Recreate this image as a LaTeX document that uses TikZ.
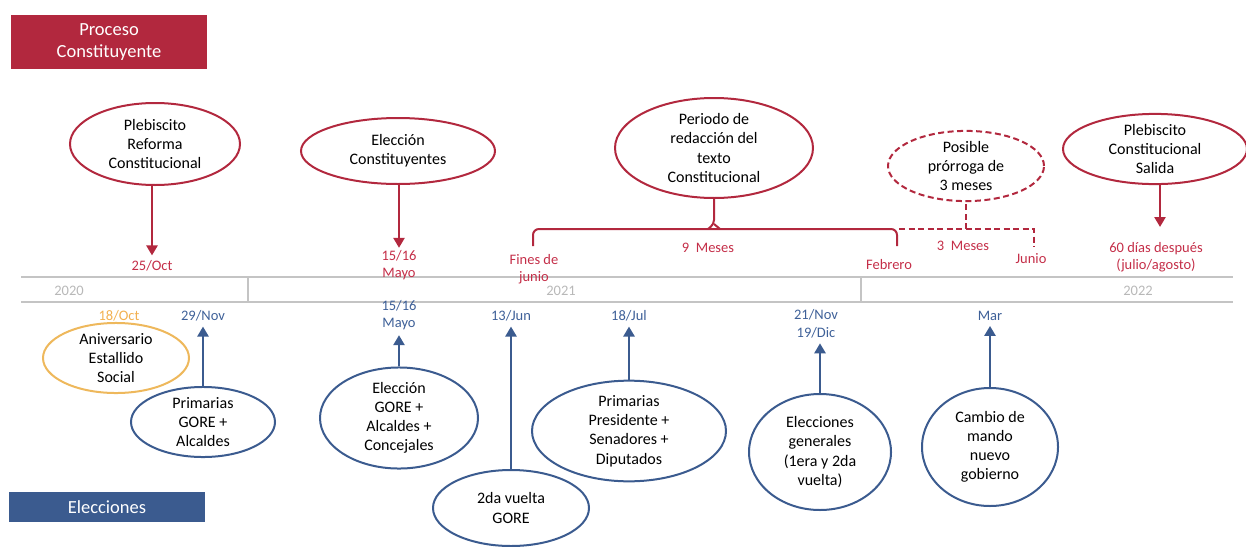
\documentclass[tikz,border=0pt]{standalone}
\usepackage{fontspec}
\setmainfont{Carlito}
\usetikzlibrary{shapes.geometric,arrows.meta}
\definecolor{cred}{RGB}{178,40,62}
\definecolor{credtxt}{RGB}{196,46,72}
\definecolor{cblue}{RGB}{59,91,143}
\definecolor{cbluetxt}{RGB}{62,96,152}
\definecolor{corange}{RGB}{238,184,92}
\definecolor{corangetxt}{RGB}{242,176,80}
\definecolor{cgrayline}{RGB}{196,196,196}
\definecolor{cgraytxt}{RGB}{184,184,184}
\tikzset{
  ell/.style={ellipse, draw, line width=2pt, inner sep=0pt, align=center,
    font=\fontsize{16}{19.2}\selectfont, text=black},
  redell/.style={ell, draw=cred},
  blueell/.style={ell, draw=cblue},
  orangeell/.style={ell, draw=corange},
  lbl/.style={align=center, inner sep=1pt, font=\fontsize{14.5}{17.5}\selectfont},
  redlbl/.style={lbl, text=credtxt},
  bluelbl/.style={lbl, text=cbluetxt},
  yearlbl/.style={lbl, text=cgraytxt},
  redarrow/.style={draw=cred, line width=2.4pt, -{Triangle[width=11pt,length=10pt]}},
  bluearrow/.style={draw=cblue, line width=2.4pt, -{Triangle[width=11pt,length=10pt]}},
  redline/.style={draw=cred, line width=2pt},
  dashline/.style={redline, dash pattern=on 6pt off 3.5pt},
  gridline/.style={draw=cgrayline, line width=1.4pt},
  titlebox/.style={minimum width=196pt, inner sep=0pt, align=center, text=white,
    font=\fontsize{18.5}{22.5}\selectfont}
}
\begin{document}
\begin{tikzpicture}[x=1pt,y=-1pt]
\useasboundingbox (0,0) rectangle (1246,546);
% title boxes
\node[titlebox, fill=cred, minimum height=54pt] (t1) at (109,42) {Proceso\\Constituyente};
\node[titlebox, fill=cblue, minimum height=30pt] (t2) at (107,507) {Elecciones};
% timeline
\draw[gridline] (21,277) -- (1233,277);
\draw[gridline] (21,302) -- (1233,302);
\draw[gridline] (248,277) -- (248,302);
\draw[gridline] (861,277) -- (861,302);
\node[yearlbl] (y1) at (69,291) {2020};
\node[yearlbl] (y2) at (561,291) {2021};
\node[yearlbl] (y3) at (1138,291) {2022};
% top ellipses
\node[redell, minimum width=170pt, minimum height=82pt] (e1) at (155,144) {Plebiscito\\Reforma\\Constitucional};
\node[redell, minimum width=194pt, minimum height=66pt] (e2) at (398,151) {Elección\\Constituyentes};
\node[redell, minimum width=198pt, minimum height=100pt] (e3) at (714,148) {Periodo de\\redacción del\\texto\\Constitucional};
\node[redell, dash pattern=on 6pt off 3.5pt, minimum width=156pt, minimum height=66pt] (e4) at (966,166) {Posible\\prórroga de\\3 meses};
\node[redell, minimum width=184pt, minimum height=62pt] (e5) at (1155,149) {Plebiscito\\Constitucional\\Salida};
% top labels
\node[redlbl] (d1) at (152,266) {25/Oct};
\node[redlbl] (d2) at (399,265) {15/16\\Mayo};
\node[redlbl] (d3) at (534,269) {Fines de\\junio};
\node[redlbl] (d4) at (708,248) {9\ \ Meses};
\node[redlbl] (d5) at (889,265) {Febrero};
\node[redlbl] (d6) at (963,246) {3\ \ Meses};
\node[redlbl] (d7) at (1031,259) {Junio};
\node[redlbl] (d8) at (1156,257) {60 días después\\(julio/agosto)};
% top arrows
\draw[redarrow, shorten >=4pt] (e1.south -| d1.north) -- (d1.north);
\draw[redarrow, shorten >=1pt] (e2.south -| d2.north) -- (d2.north);
\draw[redarrow, shorten >=9pt] (e5.south -| 1160,0) -- (1160,236);
% braces
\coordinate (bl) at (533,246);
\coordinate (bm) at (714,229);
\coordinate (br) at (897,246);
\draw[redline, rounded corners=6pt] (bl) -- (533,229) -- (897,229) -- (br);
\draw[redline, rounded corners=4pt] (708,229) -- (714,224) -- (e3.south);
\draw[redline, rounded corners=4pt] (720,229) -- (714,224);
\coordinate (dr) at (1034,247);
\draw[dashline] (899,229) -- (1034,229) -- (dr);
\draw[dashline] (966,229) -- (e4.south);
% bottom labels
\node[lbl, text=corangetxt] (b1) at (119,316) {18/Oct};
\node[bluelbl] (b2) at (203,316) {29/Nov};
\node[bluelbl] (b3) at (399,315) {15/16\\Mayo};
\node[bluelbl] (b4) at (511,316) {13/Jun};
\node[bluelbl] (b5) at (629,316) {18/Jul};
\node[bluelbl] (b6) at (816,324) {21/Nov\\19/Dic};
\node[bluelbl] (b7) at (990,316) {Mar};
% bottom ellipses
\node[orangeell, minimum width=146pt, minimum height=61pt] (o1) at (116,358) {Aniversario\\Estallido\\Social};
\node[blueell, minimum width=144pt, minimum height=68pt] (f1) at (203,422) {Primarias\\GORE +\\Alcaldes};
\node[blueell, minimum width=158pt, minimum height=82pt] (f2) at (399,418) {Elección\\GORE +\\Alcaldes +\\Concejales};
\node[blueell, minimum width=156pt, minimum height=76pt] (f3) at (511,508) {2da vuelta\\GORE};
\node[blueell, minimum width=194pt, minimum height=92pt] (f4) at (629,431) {Primarias\\Presidente +\\Senadores +\\Diputados};
\node[blueell, minimum width=142pt, minimum height=116pt] (f5) at (820,452) {Elecciones\\generales\\(1era y 2da\\vuelta)};
\node[blueell, minimum width=136pt, minimum height=118pt] (f6) at (990,447) {Cambio de\\mando\\nuevo\\gobierno};
% bottom arrows
\draw[bluearrow, shorten >=4pt] (f1.north) -- (b2.south);
\draw[bluearrow, shorten >=4pt] (f2.north) -- (b3.south);
\draw[bluearrow, shorten >=4pt] (f3.north) -- (b4.south);
\draw[bluearrow, shorten >=4pt] (f4.north) -- (b5.south);
\draw[bluearrow, shorten >=4pt] (f5.north) -- (f5.north |- b6.south);
\draw[bluearrow, shorten >=4pt] (f6.north) -- (b7.south);
\end{tikzpicture}
\end{document}
